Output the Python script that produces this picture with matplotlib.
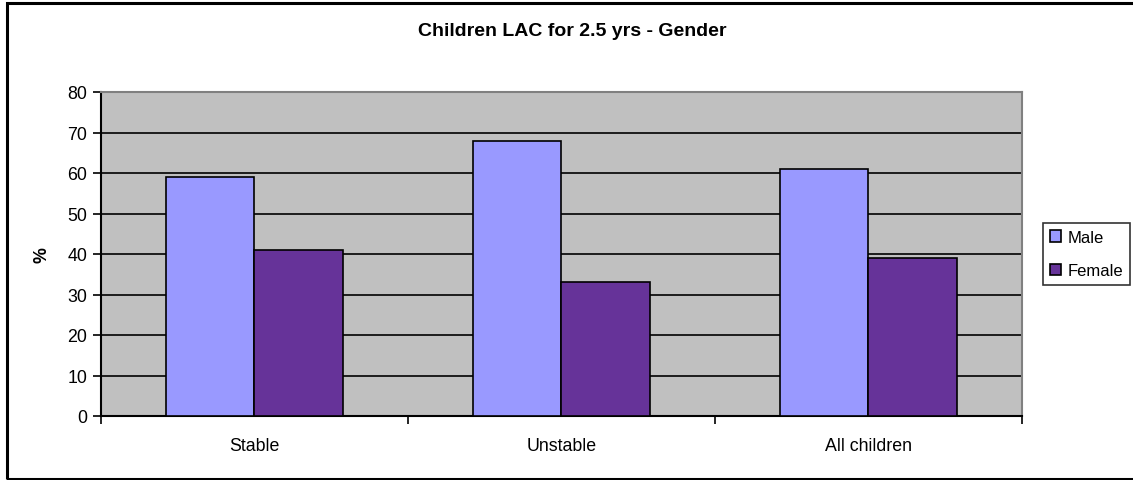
import numpy as np
import matplotlib.pyplot as plt
from matplotlib.patches import Rectangle

categories = ["Stable", "Unstable", "All children"]
male = [59, 68, 61]
female = [41, 33, 39]
series_names = ["Male", "Female"]
title = "Children LAC for 2.5 yrs - Gender"

plt.rcParams["font.family"] = ["Liberation Sans", "DejaVu Sans"]

W, H = 1133, 481
fig = plt.figure(figsize=(W / 100, H / 100), dpi=100)

# chart border (right edge runs off the canvas)
fig.patches.append(Rectangle((7 / W, 1 - 480 / H), 1.2, (480 - 4) / H,
                             transform=fig.transFigure, fill=False,
                             edgecolor="black", linewidth=2.2))

ax = fig.add_axes([101 / W, 1 - 417 / H, 921 / W, 324 / H])
ax.set_facecolor("#C0C0C0")

x = np.arange(len(categories))
w = 0.287
ax.bar(x - w / 2, male, w, color="#9999FF", edgecolor="black", linewidth=1.2,
       label=series_names[0], zorder=3)
ax.bar(x + w / 2, female, w, color="#663399", edgecolor="black", linewidth=1.2,
       label=series_names[1], zorder=3)

ax.set_xlim(-0.5, len(categories) - 0.5)
ax.set_ylim(0, 80)
ax.set_yticks(range(0, 81, 10))
ax.yaxis.grid(True, color="black", linewidth=1.2, zorder=1)
ax.set_axisbelow(True)

ax.set_xticks(np.arange(-0.5, len(categories), 1.0))
ax.set_xticklabels([])
ax.set_xticks(x, minor=True)
ax.set_xticklabels(categories, minor=True)
ax.tick_params(axis="x", which="minor", length=0, pad=15, labelsize=12.8)
ax.tick_params(axis="x", which="major", length=6, width=1.2, direction="out")
ax.tick_params(axis="y", length=6, width=1.2, labelsize=12.8, pad=4)

for side in ("top", "right"):
    ax.spines[side].set_color("#808080")
    ax.spines[side].set_linewidth(1.5)
for side in ("left", "bottom"):
    ax.spines[side].set_color("black")
    ax.spines[side].set_linewidth(1.5)

ax.set_ylabel("%", fontsize=12.8, fontweight="bold", labelpad=12)

fig.text(572 / W, 1 - 31 / H, title, ha="center", va="center",
         fontsize=14, fontweight="bold")

leg = fig.legend(loc="center left", bbox_to_anchor=(1043 / W, 1 - 255 / H),
                 fontsize=12, frameon=True, fancybox=False, edgecolor="black",
                 handlelength=0.7, handleheight=0.7, handletextpad=0.4,
                 borderpad=0.4, labelspacing=1.1, borderaxespad=0)
leg.get_frame().set_linewidth(1.2)

fig.savefig("out.png", dpi=100)
